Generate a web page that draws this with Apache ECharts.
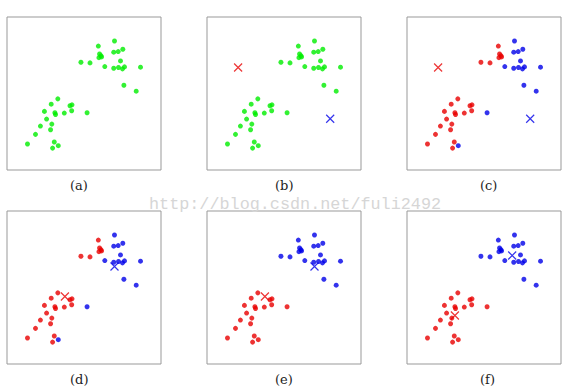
<!DOCTYPE html>
<html>
<head>
<meta charset="utf-8">
<script src="https://cdn.jsdelivr.net/npm/echarts@6/dist/echarts.min.js"></script>
<style>html,body{margin:0;padding:0;background:#fff}#chart{width:575px;height:391px}</style>
</head>
<body>
<div id="chart"></div>
<script>
// Data points (box-relative coordinates, 0..100)
const pointX = [69.8,59.3,75.2,72.2,69.3,60.1,61.0,59.7,61.4,73.7,48.0,53.9,63.5,69.3,72.4,75.0,76.3,86.7,75.9,83.9,
                33.0,28.7,42.2,40.9,24.3,31.1,31.5,37.2,42.0,52.0,25.7,29.1,21.7,28.3,18.5,13.3,30.7,33.3,29.6];
const pointY = [84.3,81.0,78.9,77.4,77.0,75.8,74.7,73.4,73.9,71.3,70.4,70.0,67.6,66.5,67.0,66.1,67.4,67.2,55.4,51.5,
                46.5,43.0,42.6,42.0,38.3,37.4,36.3,37.2,38.7,37.4,33.3,30.0,28.7,26.3,23.3,17.0,18.3,15.9,14.3];
// cluster assignment: 0 = red, 1 = blue
const labelsCD = [1,0,1,1,1,0,0,0,0,1,0,0,1,1,1,1,1,1,1,1,
                  0,0,0,0,0,0,0,0,0,1,0,0,0,0,0,0,0,1,0];
const labelsEF = [1,1,1,1,1,1,1,1,1,1,1,1,1,1,1,1,1,1,1,1,
                  0,0,0,0,0,0,0,0,0,0,0,0,0,0,0,0,0,0,0];
// centroids [red, blue] as [x, y]
const centroidsBC = [[20.2,67.0],[80.0,33.5]];
const centroidsDE = [[37.6,44.1],[69.8,63.7]];
const centroidsF  = [[31.1,31.7],[68.3,70.9]];
const panelLabels = ['(a)','(b)','(c)','(d)','(e)','(f)'];
const watermark = 'http://blog.csdn.net/fuli2492';

const GREEN = '#00ee00', RED = '#e80000', BLUE = '#0000e8';
const colors = [RED, BLUE];
const panels = [
  {labels:null, cents:null},
  {labels:null, cents:centroidsBC},
  {labels:labelsCD, cents:centroidsBC},
  {labels:labelsCD, cents:centroidsDE},
  {labels:labelsEF, cents:centroidsDE},
  {labels:labelsEF, cents:centroidsF}
];
const lefts = [7,207,407], tops = [17,211], labelCenters = [80,285,490];
const grid = [], xAxis = [], yAxis = [], series = [], graphic = [];
panels.forEach((p, i) => {
  const col = i % 3, row = Math.floor(i / 3);
  const left = lefts[col], top = tops[row];
  grid.push({left:left, top:top, width:154, height:153, show:true, borderColor:'#999', borderWidth:1, backgroundColor:'transparent'});
  xAxis.push({gridIndex:i, type:'value', min:0, max:100, show:false});
  yAxis.push({gridIndex:i, type:'value', min:0, max:100, show:false});
  series.push({
    type:'scatter', xAxisIndex:i, yAxisIndex:i, symbol:'circle', symbolSize:5, silent:true,
    data: pointX.map((x, k) => ({value:[x, pointY[k]], itemStyle:{color: p.labels ? colors[p.labels[k]] : GREEN}}))
  });
  if (p.cents) {
    series.push({
      type:'scatter', xAxisIndex:i, yAxisIndex:i, symbol:'path://M0,0L10,10M10,0L0,10', symbolSize:8, silent:true, z:5,
      data: p.cents.map((c, k) => ({value:c, itemStyle:{color:'none', borderColor:colors[k], borderWidth:1.2}}))
    });
  }
  graphic.push({type:'text', left: labelCenters[col] - 10, top: top + 162, style:{text: panelLabels[i], font:'13px "DejaVu Serif"', fill:'#222', textAlign:'left'}});
});
graphic.push({type:'text', left:149, top:196, z:100, style:{text: watermark, font:'16.8px "Liberation Mono"', fill:'#d6d6d6'}});

const chart = echarts.init(document.getElementById('chart'), null, {renderer:'svg'});
chart.setOption({animation:false, backgroundColor:'#fff', grid, xAxis, yAxis, series, graphic});
</script>
</body>
</html>
